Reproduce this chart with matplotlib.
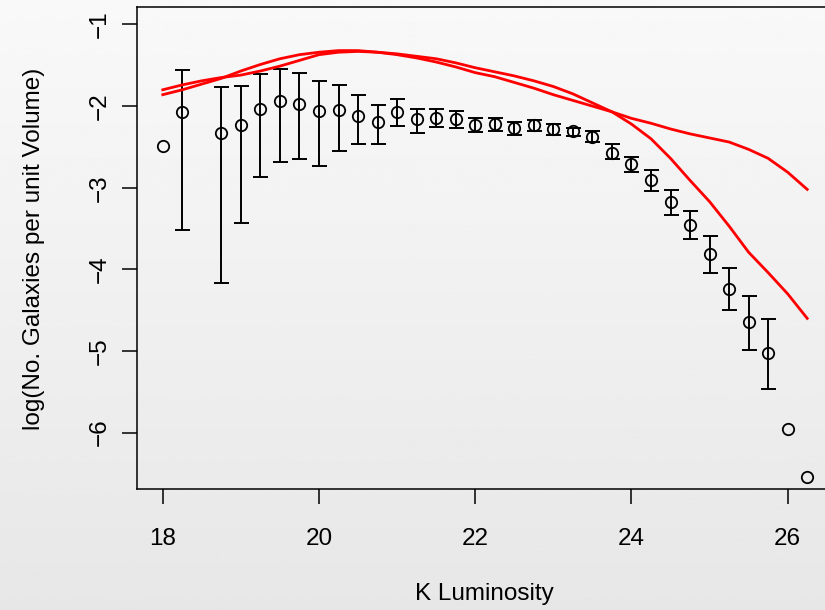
import matplotlib.pyplot as plt
import numpy as np

plt.rcParams['font.family'] = ['Liberation Sans', 'DejaVu Sans']

# observed luminosity function (log number density) with error bar limits
lum = [18.0, 18.25, 18.75, 19.0, 19.25, 19.5, 19.75, 20.0, 20.25, 20.5, 20.75,
       21.0, 21.25, 21.5, 21.75, 22.0, 22.25, 22.5, 22.75, 23.0, 23.25, 23.5,
       23.75, 24.0, 24.25, 24.5, 24.75, 25.0, 25.25, 25.5, 25.75, 26.0, 26.25]
log_n = [-2.49, -2.07, -2.33, -2.23, -2.03, -1.94, -1.97, -2.06, -2.05, -2.12, -2.20,
         -2.07, -2.16, -2.14, -2.16, -2.23, -2.22, -2.27, -2.23, -2.28, -2.31, -2.38,
         -2.57, -2.71, -2.91, -3.17, -3.46, -3.81, -4.24, -4.65, -5.03, -5.95, -6.54]
err_top = [np.nan, -1.56, -1.77, -1.75, -1.61, -1.55, -1.59, -1.69, -1.74, -1.86, -1.99,
           -1.91, -2.03, -2.03, -2.06, -2.14, -2.15, -2.20, -2.17, -2.22, -2.27, -2.31,
           -2.47, -2.62, -2.78, -3.03, -3.29, -3.59, -3.98, -4.32, -4.61, np.nan, np.nan]
err_bot = [np.nan, -3.52, -4.17, -3.43, -2.87, -2.68, -2.65, -2.73, -2.55, -2.47, -2.46,
           -2.24, -2.33, -2.25, -2.27, -2.32, -2.30, -2.35, -2.30, -2.35, -2.36, -2.44,
           -2.65, -2.81, -3.04, -3.33, -3.63, -4.04, -4.50, -4.99, -5.46, np.nan, np.nan]

# two model curves
model_lum = [18.0, 18.25, 18.5, 18.75, 19.0, 19.25, 19.5, 19.75, 20.0, 20.25, 20.5, 20.75,
             21.0, 21.25, 21.5, 21.75, 22.0, 22.25, 22.5, 22.75, 23.0, 23.25, 23.5, 23.75,
             24.0, 24.25, 24.5, 24.75, 25.0, 25.25, 25.5, 25.75, 26.0, 26.25]
model_a = [-1.80, -1.74, -1.69, -1.65, -1.62, -1.57, -1.51, -1.44, -1.37, -1.34, -1.33, -1.34,
           -1.37, -1.41, -1.46, -1.52, -1.59, -1.64, -1.71, -1.78, -1.86, -1.93, -2.00, -2.07,
           -2.15, -2.21, -2.28, -2.34, -2.39, -2.44, -2.53, -2.64, -2.81, -3.02]
model_b = [-1.86, -1.80, -1.73, -1.66, -1.57, -1.49, -1.42, -1.37, -1.34, -1.32, -1.32, -1.34,
           -1.36, -1.39, -1.42, -1.47, -1.53, -1.58, -1.63, -1.69, -1.76, -1.85, -1.96, -2.07,
           -2.22, -2.40, -2.64, -2.91, -3.17, -3.47, -3.79, -4.04, -4.30, -4.60]

x_ticks = [18, 20, 22, 24, 26]
y_ticks = [-6, -5, -4, -3, -2, -1]

fig = plt.figure(figsize=(8.25, 6.1), dpi=100)

# light grey vertical gradient behind everything
bg = fig.add_axes([0, 0, 1, 1], zorder=0)
grad = np.linspace(0.975, 0.905, 256).reshape(-1, 1)
bg.imshow(grad, aspect='auto', cmap='gray', vmin=0, vmax=1, extent=[0, 1, 0, 1])
bg.axis('off')

ax = fig.add_axes([137 / 825, 121 / 610, 696 / 825, 482 / 610], zorder=1)
ax.set_facecolor('none')

lum_arr = np.array(lum)
y = np.array(log_n)
top = np.array(err_top)
bot = np.array(err_bot)
has_err = ~np.isnan(top)
ax.errorbar(lum_arr[has_err], y[has_err],
            yerr=[y[has_err] - bot[has_err], top[has_err] - y[has_err]],
            fmt='none', ecolor='black', elinewidth=1.4, capsize=5.4, capthick=1.4)
ax.plot(lum, log_n, 'o', markersize=8.2, markerfacecolor='none',
        markeredgecolor='black', markeredgewidth=1.3)

ax.plot(model_lum, model_a, color='#ff0000', linewidth=2)
ax.plot(model_lum, model_b, color='#ff0000', linewidth=2)

ax.set_xlim(17.67, 26.58)
ax.set_ylim(-6.69, -0.786)
ax.set_xticks(x_ticks)
ax.set_xticklabels([str(t) for t in x_ticks], fontsize=17.5)
ax.set_yticks(y_ticks)
ax.set_yticklabels(['\u2212' + str(-t) for t in y_ticks], fontsize=17.5,
                   rotation=90, va='center')
ax.tick_params(axis='x', direction='out', length=10.8, width=1.1, pad=17)
ax.tick_params(axis='y', direction='out', length=10.8, width=1.1, pad=8)
for side in ['left', 'top', 'bottom', 'right']:
    ax.spines[side].set_linewidth(1.1)

ax.set_xlabel('K Luminosity', fontsize=17.5)
ax.set_ylabel('log(No. Galaxies per unit Volume)', fontsize=17.5)
ax.xaxis.set_label_coords(0.4986, -0.195)
ax.yaxis.set_label_coords(-0.132, 0.498)

fig.savefig('out.png', dpi=100)
